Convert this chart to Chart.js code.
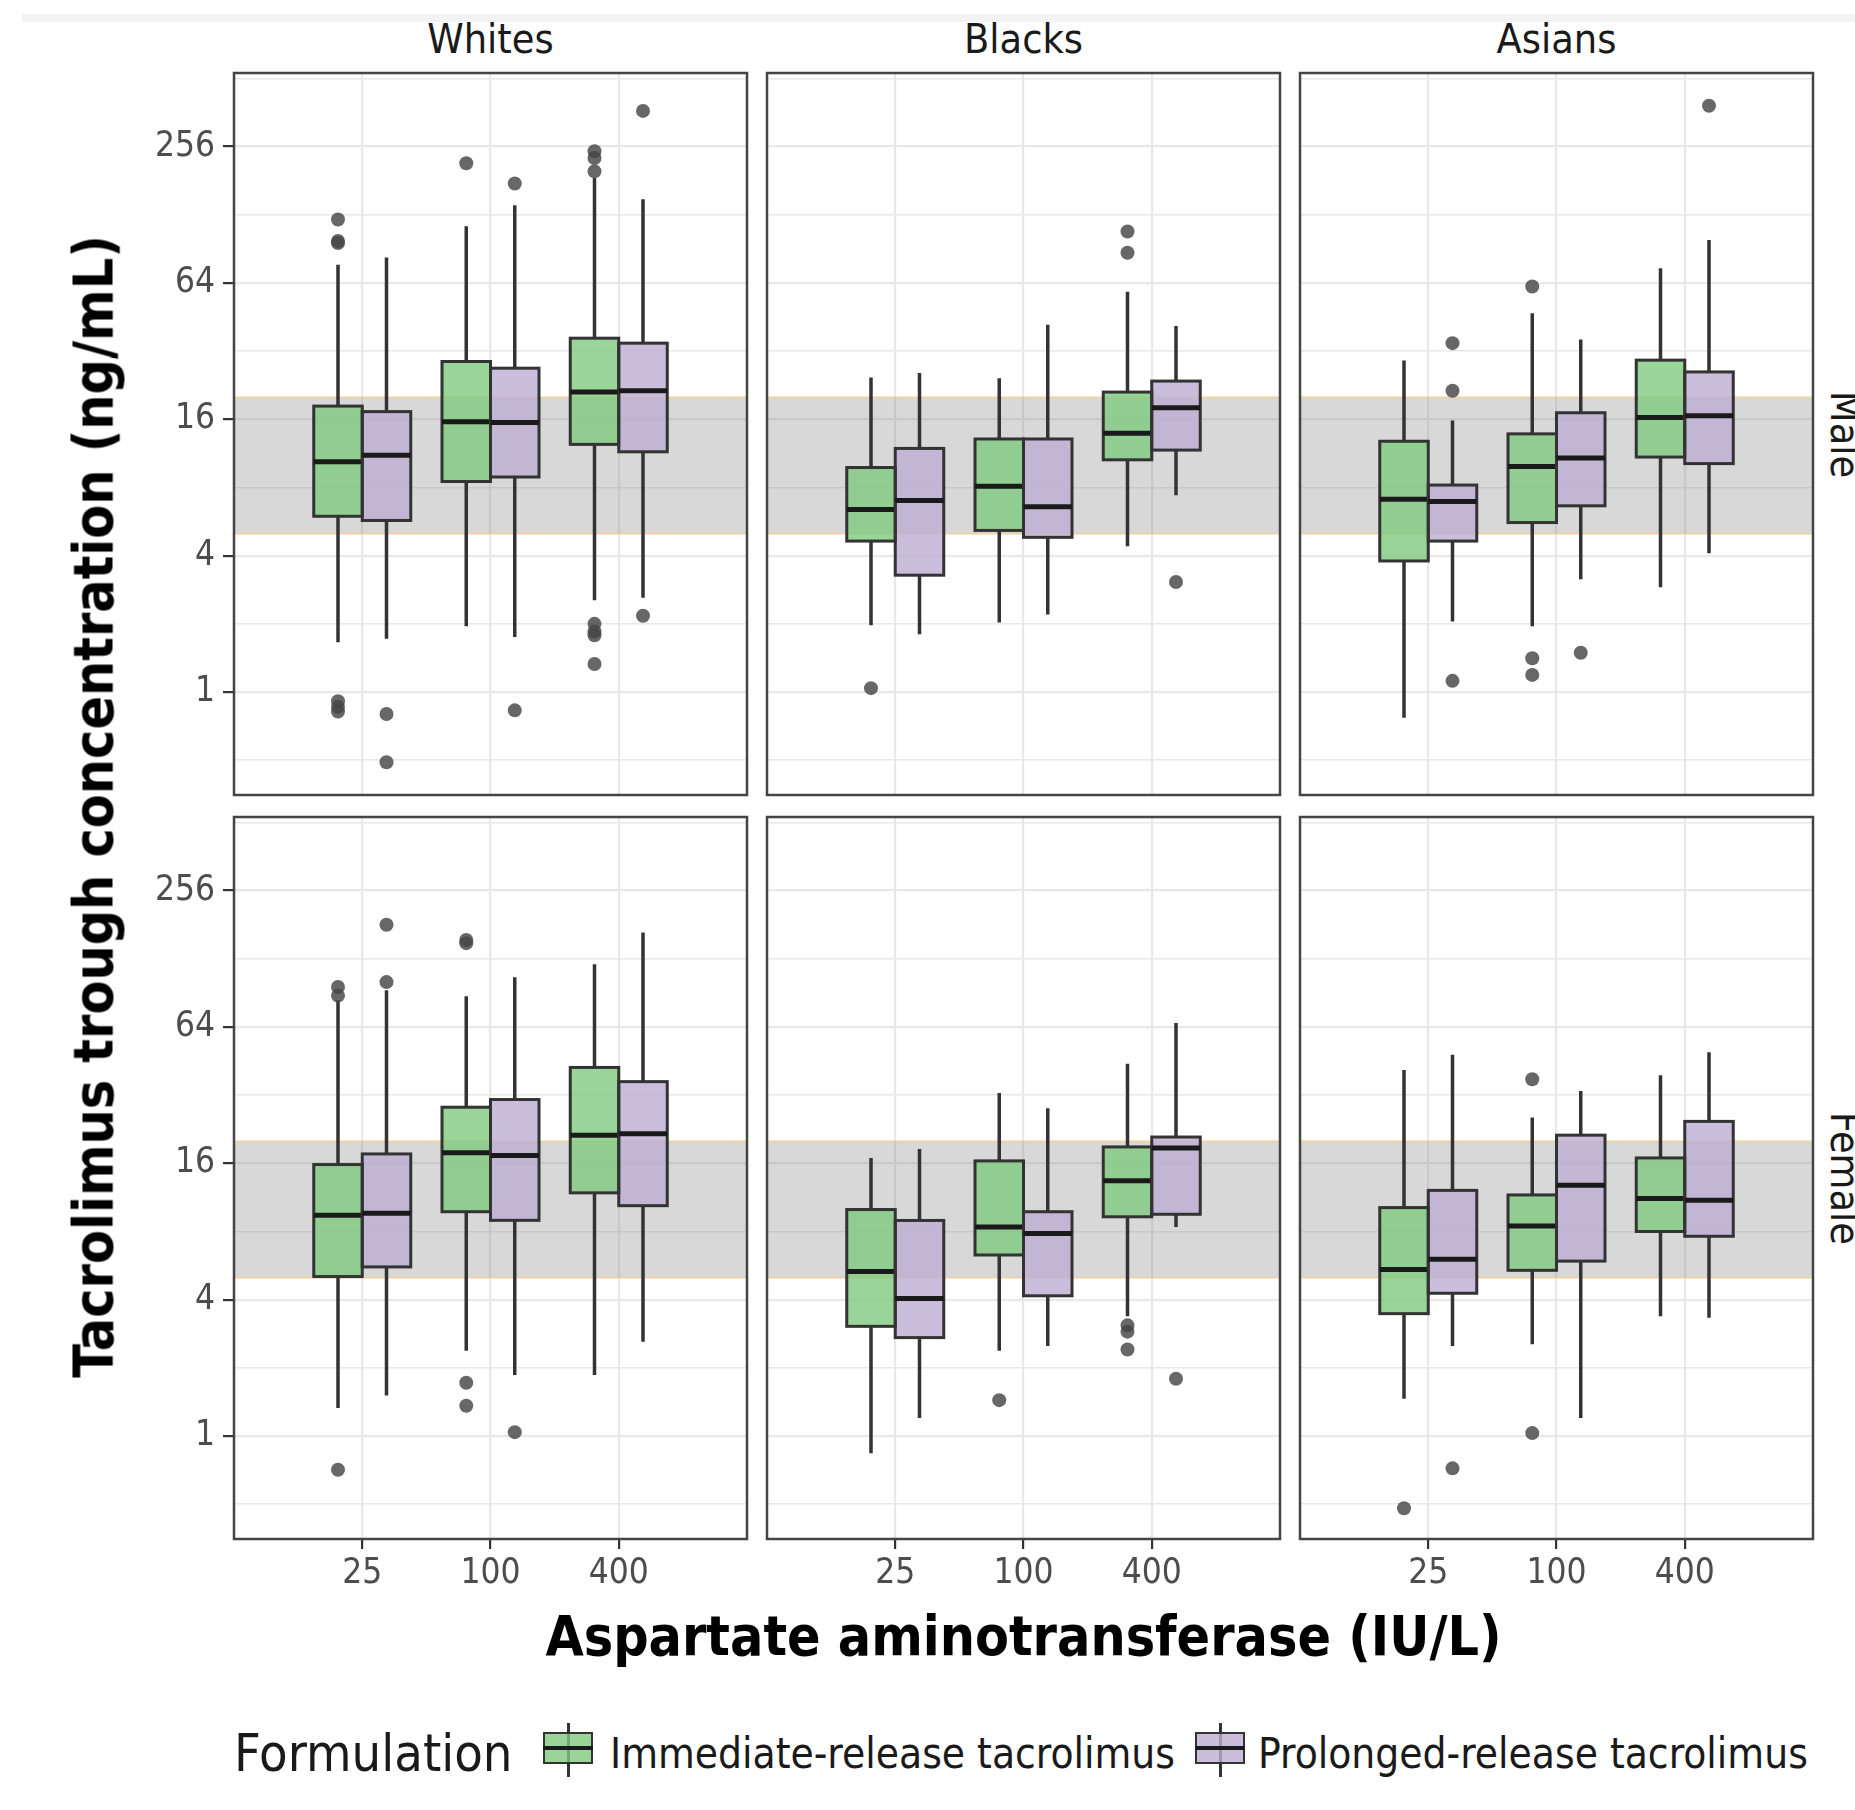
<!DOCTYPE html>
<html>
<head>
<meta charset="utf-8">
<title>Tacrolimus trough concentration by AST</title>
<script src="https://cdn.jsdelivr.net/npm/chart.js@4.4.1/dist/chart.umd.min.js"></script>
<style>
  html, body { margin: 0; padding: 0; background: #fff; }
  body {
    width: 1855px; height: 1810px; position: relative; overflow: hidden;
    font-family: 'DejaVu Sans Condensed', 'DejaVu Sans', sans-serif; color: #1a1a1a;
  }
  canvas { position: absolute; }
  .txt { position: absolute; white-space: nowrap; line-height: 1; }
  .strip { font-size: 41px; text-align: center; }
  .axis-title { font-weight: bold; font-size: 55px; color: #000; text-align: center; }
  .key { position: absolute; width: 50px; height: 54px; }
  .key .whisker { position: absolute; left: 23.5px; top: 0; width: 3px; height: 54px; background: #333; }
  .key .box { position: absolute; left: 0; top: 9px; width: 50px; height: 32px; box-sizing: border-box; border: 2.5px solid #333; }
  .key .median { position: absolute; left: 0; top: 23px; width: 50px; height: 4px; background: #1a1a1a; }
  #topline { position: absolute; left: 22px; top: 14px; right: 0; height: 8px; background: #f3f3f3; }
</style>
</head>
<body>
<div id="topline"></div>
<script>
// facets, x categories and legend entries
const races = ['Whites', 'Blacks', 'Asians'];
const sexes = ['Male', 'Female'];
const astLevels = [25, 100, 400];
const astLabels = ['25', '100', '400'];
const formulations = ['Immediate-release tacrolimus', 'Prolonged-release tacrolimus'];
const yTickValues = [1, 4, 16, 64, 256];
const yTickLabels = ['1', '4', '16', '64', '256'];
const yGridValues = [0.5, 1, 2, 4, 8, 16, 32, 64, 128, 256, 512];
const targetRange = [5, 20];

// box stats per AST level: [lower whisker, Q1, median, Q3, upper whisker]
const whitesMaleIR = [[1.66, 5.97, 10.4, 18.3, 77], [1.95, 8.5, 15.6, 28.8, 114], [2.54, 12.4, 21.1, 36.5, 186]];
const whitesMalePR = [[1.72, 5.72, 11.1, 17.3, 83], [1.75, 8.9, 15.5, 26.9, 141], [2.61, 11.5, 21.4, 34.7, 150]];
const blacksMaleIR = [[1.97, 4.64, 6.4, 9.8, 24.5], [2.03, 5.17, 8.1, 13.1, 24.3], [4.4, 10.6, 13.9, 21.1, 58.5]];
const blacksMalePR = [[1.8, 3.28, 7.0, 11.9, 25.6], [2.2, 4.82, 6.57, 13.1, 41.8], [7.4, 11.7, 18.0, 23.6, 41.3]];
const asiansMaleIR = [[0.77, 3.79, 7.1, 12.8, 29.1], [1.95, 5.6, 9.9, 13.8, 47], [2.9, 10.9, 16.3, 29.2, 74.3]];
const asiansMalePR = [[2.05, 4.64, 6.93, 8.2, 15.8], [3.15, 6.64, 10.8, 17.1, 36], [4.1, 10.2, 16.6, 25.9, 99]];
const whitesFemaleIR = [[1.33, 5.06, 9.44, 15.8, 84], [2.38, 9.78, 17.8, 28.3, 87.5], [1.86, 11.85, 21.3, 42.4, 121]];
const whitesFemalePR = [[1.51, 5.58, 9.63, 17.6, 93], [1.86, 8.96, 17.3, 30.6, 106], [2.61, 10.4, 21.6, 36.7, 167]];
const blacksFemaleIR = [[0.84, 3.05, 5.33, 10.0, 16.9], [2.38, 6.3, 8.37, 16.4, 32.7], [3.38, 9.29, 13.4, 18.9, 44]];
const blacksFemalePR = [[1.2, 2.72, 4.05, 8.95, 18.5], [2.5, 4.16, 7.83, 9.78, 28], [8.37, 9.53, 18.7, 20.9, 66.6]];
const asiansFemaleIR = [[1.46, 3.47, 5.44, 10.2, 41.3], [2.54, 5.39, 8.46, 11.6, 25.5], [3.38, 8.0, 11.2, 16.9, 39.2]];
const asiansFemalePR = [[2.5, 4.27, 6.04, 12.15, 48.2], [1.2, 5.92, 12.8, 21.3, 33.4], [3.33, 7.62, 11.0, 24.5, 49.5]];

// outlying points per AST level
const whitesMaleIROut = [[122, 98, 96, 0.91, 0.86, 0.82], [216], [244, 228, 199, 2.0, 1.85, 1.78, 1.33]];
const whitesMalePROut = [[0.8, 0.49], [176, 0.83], [368, 2.17]];
const blacksMaleIROut = [[1.04], [], [108, 87]];
const blacksMalePROut = [[], [], [3.06]];
const asiansMaleIROut = [[], [61.7, 1.41, 1.19], []];
const asiansMalePROut = [[34.7, 21.4, 1.12], [1.49], [388]];
const whitesFemaleIROut = [[96, 88, 0.71], [155, 150, 1.72, 1.36], []];
const whitesFemalePROut = [[181, 101], [1.04], []];
const blacksFemaleIROut = [[], [1.44], [3.08, 2.89, 2.41]];
const blacksFemalePROut = [[], [], [1.79]];
const asiansFemaleIROut = [[0.48], [37.6, 1.03], []];
const asiansFemalePROut = [[0.72], [], []];

const panels = [
  [[whitesMaleIR, whitesMalePR, whitesMaleIROut, whitesMalePROut],
   [blacksMaleIR, blacksMalePR, blacksMaleIROut, blacksMalePROut],
   [asiansMaleIR, asiansMalePR, asiansMaleIROut, asiansMalePROut]],
  [[whitesFemaleIR, whitesFemalePR, whitesFemaleIROut, whitesFemalePROut],
   [blacksFemaleIR, blacksFemalePR, blacksFemaleIROut, blacksFemalePROut],
   [asiansFemaleIR, asiansFemalePR, asiansFemaleIROut, asiansFemalePROut]]
];

const FONT = "'DejaVu Sans Condensed', 'DejaVu Sans', sans-serif";
const fillColors = ['rgba(127, 201, 127, 0.8)', 'rgba(190, 174, 212, 0.8)'];

// page layout
const PANEL_W = 513, PANEL_H = 722;
const colLeft = [234, 767, 1300];
const rowTop = [73, 817];
const AXIS_W = 120, AXIS_H = 80, PAD = 4;
const Y_MIN = 0.351, Y_MAX = 541;

const isMajorY = v => Math.round(Math.log2(v)) % 2 === 0;

// target band, whiskers, box outlines, medians, outliers and panel frame
const boxPlotPlugin = {
  id: 'boxPlot',
  beforeDatasetsDraw(chart) {
    const { ctx, chartArea: a, scales: { y } } = chart;
    const top = y.getPixelForValue(targetRange[1]);
    const bottom = y.getPixelForValue(targetRange[0]);
    ctx.save();
    ctx.fillStyle = 'rgba(128, 128, 128, 0.31)';
    ctx.fillRect(a.left, top, a.right - a.left, bottom - top);
    ctx.strokeStyle = 'rgba(240, 200, 130, 0.6)';
    ctx.lineWidth = 2;
    ctx.beginPath();
    ctx.moveTo(a.left, top); ctx.lineTo(a.right, top);
    ctx.moveTo(a.left, bottom); ctx.lineTo(a.right, bottom);
    ctx.stroke();

    ctx.strokeStyle = '#333';
    ctx.lineWidth = 3.5;
    chart.data.datasets.forEach((ds, di) => {
      chart.getDatasetMeta(di).data.forEach((bar, i) => {
        const [lo, q1, , q3, hi] = ds.stats[i];
        ctx.beginPath();
        ctx.moveTo(bar.x, y.getPixelForValue(hi));
        ctx.lineTo(bar.x, y.getPixelForValue(q3));
        ctx.moveTo(bar.x, y.getPixelForValue(q1));
        ctx.lineTo(bar.x, y.getPixelForValue(lo));
        ctx.stroke();
      });
    });
    ctx.restore();
  },
  afterDatasetsDraw(chart) {
    const { ctx, chartArea: a, scales: { y } } = chart;
    ctx.save();
    chart.data.datasets.forEach((ds, di) => {
      chart.getDatasetMeta(di).data.forEach((bar, i) => {
        const p = bar.getProps(['x', 'y', 'base', 'width'], true);
        const left = p.x - p.width / 2;
        ctx.strokeStyle = '#333';
        ctx.lineWidth = 3;
        ctx.strokeRect(left, Math.min(p.y, p.base), p.width, Math.abs(p.base - p.y));
        const ym = y.getPixelForValue(ds.stats[i][2]);
        ctx.strokeStyle = '#1a1a1a';
        ctx.lineWidth = 5;
        ctx.beginPath();
        ctx.moveTo(left, ym); ctx.lineTo(left + p.width, ym);
        ctx.stroke();
        ctx.fillStyle = 'rgba(70, 70, 70, 0.82)';
        ds.outliers[i].forEach(v => {
          ctx.beginPath();
          ctx.arc(p.x, y.getPixelForValue(v), 7, 0, Math.PI * 2);
          ctx.fill();
        });
      });
    });
    ctx.strokeStyle = '#444';
    ctx.lineWidth = 2.5;
    ctx.strokeRect(a.left, a.top, a.right - a.left, a.bottom - a.top);
    ctx.restore();
  }
};

function makePanel(r, c) {
  const [irStats, prStats, irOut, prOut] = panels[r][c];
  const yW = c === 0 ? AXIS_W : 0;
  const xH = r === 1 ? AXIS_H : 0;
  const canvas = document.createElement('canvas');
  canvas.width = PANEL_W + 2 * PAD + yW;
  canvas.height = PANEL_H + 2 * PAD + xH;
  canvas.style.left = (colLeft[c] - PAD - yW) + 'px';
  canvas.style.top = (rowTop[r] - PAD) + 'px';
  document.body.appendChild(canvas);

  const toBars = stats => stats.map((b, i) => ({ x: astLevels[i], y: [b[1], b[3]] }));

  new Chart(canvas, {
    type: 'bar',
    data: {
      datasets: [
        { label: formulations[0], data: toBars(irStats), stats: irStats, outliers: irOut,
          backgroundColor: fillColors[0], borderWidth: 0, barThickness: 48.5 },
        { label: formulations[1], data: toBars(prStats), stats: prStats, outliers: prOut,
          backgroundColor: fillColors[1], borderWidth: 0, barThickness: 48.5 }
      ]
    },
    options: {
      responsive: false,
      animation: false,
      events: [],
      layout: { padding: PAD },
      plugins: { legend: { display: false }, tooltip: { enabled: false } },
      scales: {
        x: {
          type: 'logarithmic', min: 6.25, max: 1600, bounds: 'data', offset: false,
          afterBuildTicks: s => { s.ticks = astLevels.map(v => ({ value: v })); },
          afterFit: s => { s.height = xH; s.paddingLeft = 0; s.paddingRight = 0; },
          border: { display: false },
          grid: { offset: false, color: '#e8e8e8', lineWidth: 2.2, drawTicks: r === 1,
                  tickLength: 10, tickWidth: 2.2, tickColor: '#333' },
          ticks: { display: r === 1, autoSkip: false, maxRotation: 0, minRotation: 0, padding: 4,
                   color: '#4d4d4d', font: { family: FONT, size: 35 },
                   callback: v => astLabels[astLevels.indexOf(v)] }
        },
        y: {
          type: 'logarithmic', min: Y_MIN, max: Y_MAX, bounds: 'data', beginAtZero: false,
          afterBuildTicks: s => { s.ticks = yGridValues.map(v => ({ value: v })); },
          afterFit: s => { s.width = yW; s.paddingTop = 0; s.paddingBottom = 0; },
          border: { display: false },
          grid: {
            color: '#e8e8e8',
            lineWidth: ctx => (ctx.tick && isMajorY(ctx.tick.value)) ? 2.2 : 1.4,
            drawTicks: c === 0, tickLength: 11, tickWidth: 2.2,
            tickColor: ctx => (ctx.tick && isMajorY(ctx.tick.value)) ? '#333' : 'rgba(0,0,0,0)'
          },
          ticks: { display: c === 0, autoSkip: false, padding: 8, color: '#4d4d4d',
                   font: { family: FONT, size: 35 },
                   callback: v => { const k = yTickValues.indexOf(v); return k >= 0 ? yTickLabels[k] : ''; } }
        }
      }
    },
    plugins: [boxPlotPlugin]
  });
}

for (let r = 0; r < sexes.length; r++) {
  for (let c = 0; c < races.length; c++) makePanel(r, c);
}

function addText(text, cls, style) {
  const d = document.createElement('div');
  d.className = 'txt ' + cls;
  d.textContent = text;
  Object.assign(d.style, style);
  document.body.appendChild(d);
  return d;
}

// column strips
races.forEach((name, c) => addText(name, 'strip', {
  left: colLeft[c] + 'px', top: '19px', width: PANEL_W + 'px'
}));

// row strips, rotated clockwise
sexes.forEach((name, r) => addText(name, 'strip', {
  left: (1844 - 150) + 'px', top: (rowTop[r] + PANEL_H / 2 - 20.5) + 'px',
  width: '300px', height: '41px', transform: 'rotate(90deg)'
}));

// axis titles
addText('Tacrolimus trough concentration (ng/mL)', 'axis-title', {
  left: (94 - 700) + 'px', top: (806 - 27.5) + 'px', width: '1400px', height: '55px',
  transform: 'rotate(-90deg)'
});
addText('Aspartate aminotransferase (IU/L)', 'axis-title', {
  left: colLeft[0] + 'px', top: '1609px', width: (colLeft[2] + PANEL_W - colLeft[0]) + 'px'
});

// legend
addText('Formulation', '', { left: '234px', top: '1727px', fontSize: '52px' });
const keyLeft = [543, 1195];
const labelLeft = [610, 1258];
formulations.forEach((name, k) => {
  const key = document.createElement('div');
  key.className = 'key';
  key.style.left = keyLeft[k] + 'px';
  key.style.top = '1723px';
  key.innerHTML = '<div class="whisker"></div><div class="box"></div><div class="median"></div>';
  key.querySelector('.box').style.background = fillColors[k];
  document.body.appendChild(key);
  addText(name, '', { left: labelLeft[k] + 'px', top: '1733px', fontSize: '42px' });
});
</script>
</body>
</html>
